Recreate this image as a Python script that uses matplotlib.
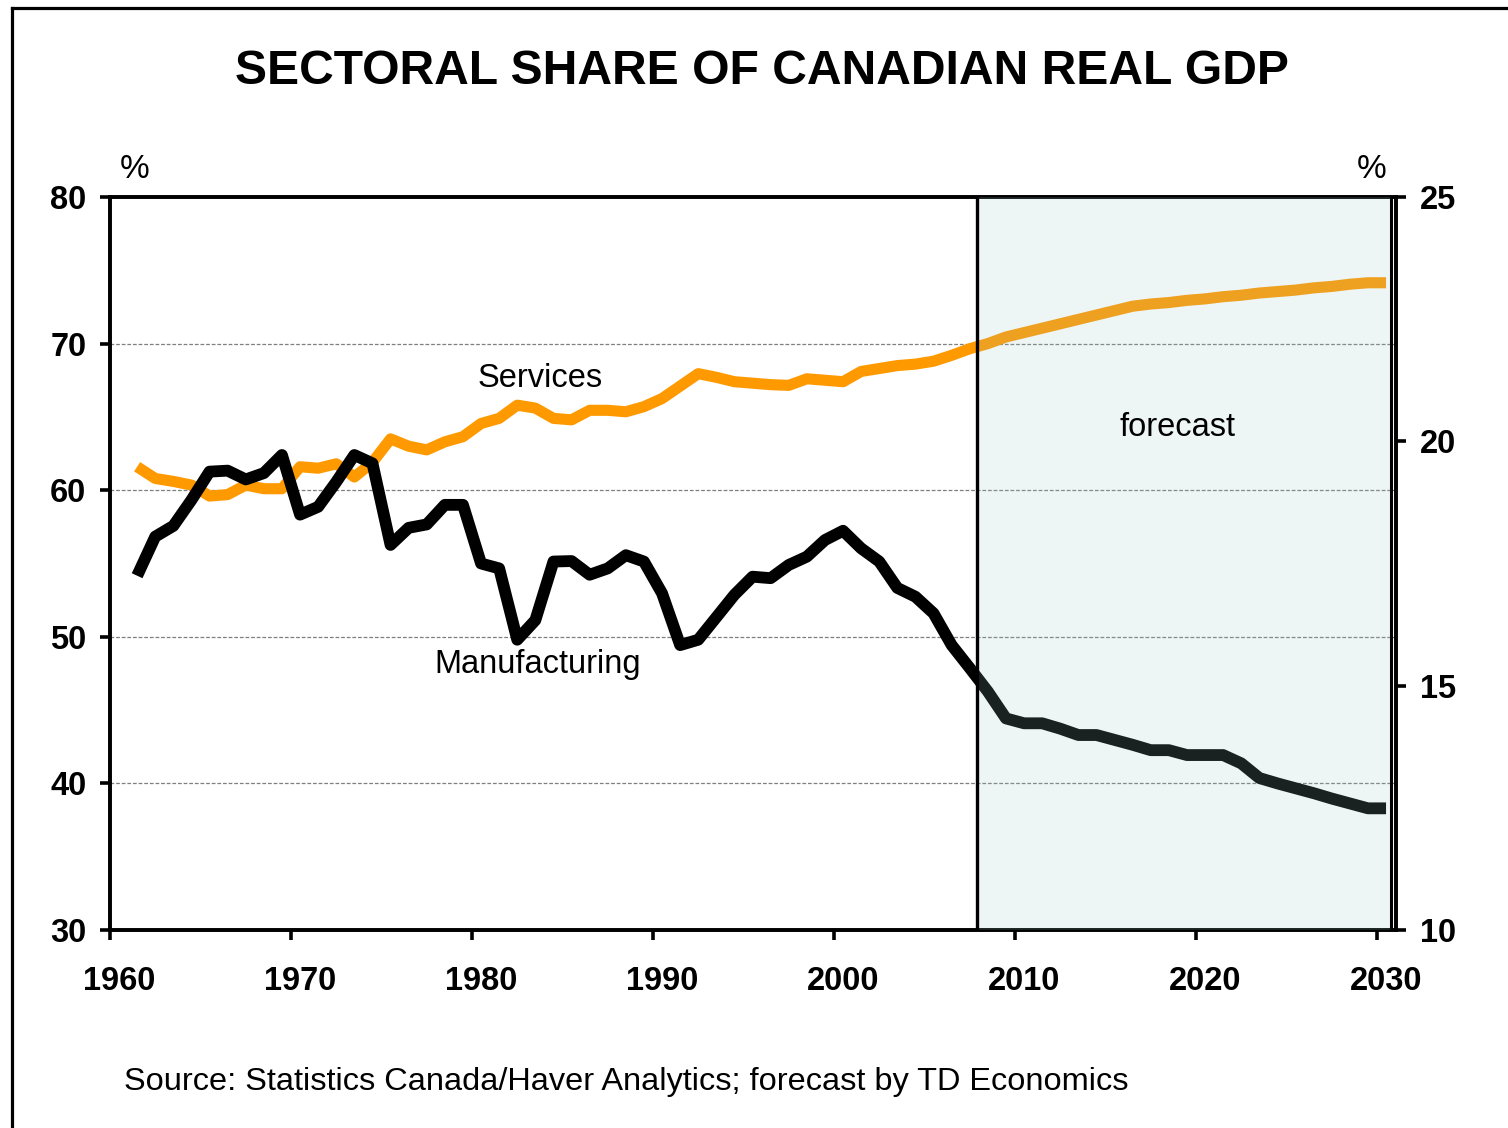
import matplotlib
matplotlib.use("Agg")
import matplotlib.pyplot as plt
from matplotlib.patches import Rectangle
from matplotlib.lines import Line2D
from matplotlib.transforms import ScaledTranslation

plt.rcParams['font.family'] = ['Liberation Sans', 'DejaVu Sans']

years = list(range(1961, 2031))

services = [61.6, 60.8, 60.6, 60.35, 59.6, 59.7, 60.35, 60.1, 60.1, 61.6,
            61.5, 61.8, 60.9, 61.9, 63.5, 63.0, 62.75, 63.3, 63.65, 64.55,
            64.9, 65.8, 65.6, 64.9, 64.8, 65.45, 65.45, 65.35, 65.7, 66.25,
            67.1, 67.95, 67.7, 67.4, 67.3, 67.2, 67.15, 67.6, 67.5, 67.4,
            68.1, 68.3, 68.5, 68.6, 68.8, 69.2, 69.65, 70.0, 70.45, 70.75,
            71.05, 71.35, 71.65, 71.95, 72.25, 72.55, 72.7, 72.8, 72.95, 73.05,
            73.2, 73.3, 73.45, 73.55, 73.65, 73.8, 73.9, 74.05, 74.15, 74.15]

manufacturing = [17.25, 18.05, 18.27, 18.8, 19.38, 19.4, 19.22, 19.35, 19.72, 18.5,
                 18.66, 19.17, 19.72, 19.55, 17.88, 18.23, 18.3, 18.7, 18.7, 17.5,
                 17.4, 15.94, 16.34, 17.54, 17.55, 17.27, 17.4, 17.67, 17.54, 16.89,
                 15.83, 15.94, 16.4, 16.86, 17.23, 17.2, 17.47, 17.64, 17.98, 18.17,
                 17.81, 17.54, 17.0, 16.82, 16.48, 15.83, 15.36, 14.88, 14.33, 14.23,
                 14.23, 14.12, 13.99, 13.99, 13.89, 13.79, 13.68, 13.68, 13.58, 13.58,
                 13.58, 13.41, 13.11, 13.0, 12.9, 12.8, 12.69, 12.59, 12.49, 12.49]

forecast_start = 2007.9
forecast_end = 2030.75

left_ticks = [30, 40, 50, 60, 70, 80]
right_ticks = [10, 15, 20, 25]
x_ticks = [1960, 1970, 1980, 1990, 2000, 2010, 2020, 2030]

fig = plt.figure(figsize=(15.08, 11.28), dpi=100)
ax = fig.add_axes([110 / 1508, 198 / 1128, 1286 / 1508, 733 / 1128])
ax2 = ax.twinx()

# yearly points sit mid-year, like the original excel chart
xs = [y + 0.5 for y in years]
ax.plot(xs, services, color='#FF9900', lw=8, solid_capstyle='butt',
        solid_joinstyle='round', zorder=3)
ax2.plot(xs, manufacturing, color='black', lw=8.5, solid_capstyle='butt',
         solid_joinstyle='round', zorder=3)

# forecast box drawn on top, semi transparent
ax2.add_patch(Rectangle((forecast_start, 10), forecast_end - forecast_start, 15,
                        facecolor='#9bc4c4', alpha=0.17, edgecolor='none', zorder=5))
ax2.axvline(forecast_start, color='black', lw=2.4, zorder=6)
ax2.axvline(forecast_end, color='black', lw=2.2, zorder=6)

ax.set_xlim(1960, 2031.05)
ax.set_ylim(30, 80)
ax2.set_ylim(10, 25)
ax.set_yticks(left_ticks)
ax2.set_yticks(right_ticks)
ax.set_xticks(x_ticks)

for t in [40, 50, 60, 70]:
    ax.axhline(t, color='#7f7f7f', lw=0.9, ls=(0, (3, 1.5)), zorder=1)

for a in (ax, ax2):
    for s in a.spines.values():
        s.set_linewidth(2.6)
    a.tick_params(direction='out', length=7, width=2.6, labelsize=23.5, pad=10)
ax.tick_params(axis='x', pad=19)
for lab in ax.get_xticklabels() + ax.get_yticklabels() + ax2.get_yticklabels():
    lab.set_fontweight('bold')
for lab in ax.get_xticklabels():
    lab.set_transform(lab.get_transform() + ScaledTranslation(9 / 100, 0, fig.dpi_scale_trans))

ax.text(1983.75, 67.65, 'Services', fontsize=23.5, ha='center', va='center')
ax2.text(1983.65, 15.44, 'Manufacturing', fontsize=23.5, ha='center', va='center')
ax2.text(2019.0, 20.29, 'forecast', fontsize=23.5, ha='center', va='center', zorder=7)

fig.text(135 / 1508, 1 - 169 / 1128, '%', fontsize=24, ha='center', va='center')
fig.text(1372 / 1508, 1 - 169 / 1128, '%', fontsize=24, ha='center', va='center')

fig.text(762 / 1508, 1 - 71 / 1128, 'SECTORAL SHARE OF CANADIAN REAL GDP',
         fontsize=34.6, fontweight='bold', ha='center', va='center')
fig.text(124 / 1508, 1 - 1082 / 1128,
         'Source: Statistics Canada/Haver Analytics; forecast by TD Economics',
         fontsize=23.4, ha='left', va='center')

# outer frame (only left and top visible in the original)
fig.add_artist(Line2D([12 / 1508, 12 / 1508], [0, 1 - 8 / 1128], color='black', lw=2.3))
fig.add_artist(Line2D([12 / 1508, 1], [1 - 8 / 1128, 1 - 8 / 1128], color='black', lw=2.3))

fig.savefig('out.png', dpi=100)
